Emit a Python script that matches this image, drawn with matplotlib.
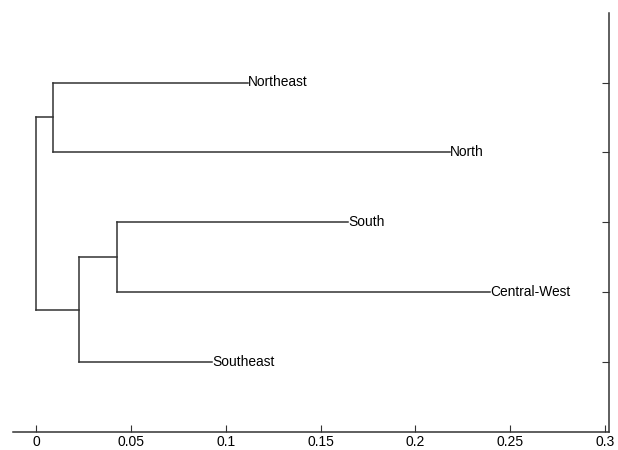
import matplotlib
matplotlib.use('Agg')
import matplotlib.pyplot as plt

plt.rcParams['font.family'] = ['Liberation Sans', 'DejaVu Sans']

# leaves, bottom to top
leaves = ['Southeast', 'Central-West', 'South', 'North', 'Northeast']
leaf_y = [1, 2, 3, 4, 5]
leaf_end = [0.0928, 0.2393, 0.1645, 0.2180, 0.1118]

# internal nodes: name -> (x, left child, right child)
nodes = {
    'n1': (0.0090, 'Northeast', 'North'),
    'n2': (0.0427, 'South', 'Central-West'),
    'n3': (0.0227, 'n2', 'Southeast'),
    'root': (0.0, 'n1', 'n3'),
}

xticks = [0, 0.05, 0.1, 0.15, 0.2, 0.25, 0.3]
xtick_labels = ['0', '0.05', '0.1', '0.15', '0.2', '0.25', '0.3']

line_col = '#333333'

fig = plt.figure(figsize=(6.18, 4.5), dpi=100)
ax = fig.add_axes([0.0205, 0.04, 0.965, 0.932])

ypos = dict(zip(leaves, leaf_y))
xend = dict(zip(leaves, leaf_end))


def y_of(name):
    if name in ypos:
        return ypos[name]
    x, a, b = nodes[name]
    return (y_of(a) + y_of(b)) / 2


for name, (x, a, b) in nodes.items():
    ya, yb = y_of(a), y_of(b)
    ax.plot([x, x], [ya, yb], color=line_col, lw=1.1)
    for c in (a, b):
        if c in xend:
            ax.plot([x, xend[c]], [ypos[c], ypos[c]], color=line_col, lw=1.1)
            ax.text(xend[c], ypos[c], c, ha='left', va='center', fontsize=9.9)
        else:
            ax.plot([x, nodes[c][0]], [y_of(c), y_of(c)], color=line_col, lw=1.1)

ax.set_xlim(-0.0123, 0.302)
ax.set_ylim(0, 6)
ax.set_xticks(xticks)
ax.set_xticklabels(xtick_labels, fontsize=10)
ax.set_yticks(leaf_y)
ax.yaxis.tick_right()
ax.tick_params(axis='y', labelright=False, direction='in', length=5, color=line_col)
ax.tick_params(axis='x', direction='in', length=5, pad=2, color=line_col)
ax.spines['top'].set_visible(False)
ax.spines['left'].set_visible(False)
for s in ('bottom', 'right'):
    ax.spines[s].set_color(line_col)
    ax.spines[s].set_linewidth(1.1)

fig.savefig('out.png', dpi=100)
